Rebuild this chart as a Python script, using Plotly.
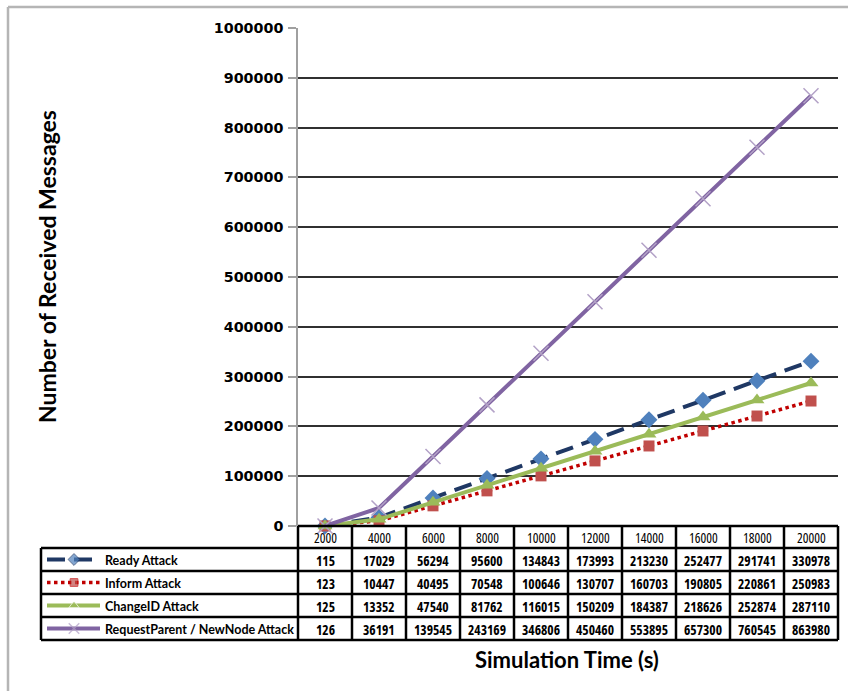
import plotly.graph_objects as go

# Simulation times (s) and received-message counts for each attack
sim_time = [2000, 4000, 6000, 8000, 10000, 12000, 14000, 16000, 18000, 20000]
ready_attack = [115, 17029, 56294, 95600, 134843, 173993, 213230, 252477, 291741, 330978]
inform_attack = [123, 10447, 40495, 70548, 100646, 130707, 160703, 190805, 220861, 250983]
changeid_attack = [125, 13352, 47540, 81762, 116015, 150209, 184387, 218626, 252874, 287110]
reqparent_attack = [126, 36191, 139545, 243169, 346806, 450460, 553895, 657300, 760545, 863980]
series_names = ["Ready Attack", "Inform Attack", "ChangeID Attack",
                "RequestParent / NewNode Attack"]
y_ticks = [0, 100000, 200000, 300000, 400000, 500000, 600000, 700000,
           800000, 900000, 1000000]

W, H = 848, 691
PX_L, PX_R = 298, 838      # plot area left / right (pixels)
PX_T, PX_B = 28, 526       # plot area top / bottom (pixels)
TABLE_L = 41
ROW_EDGES = [526, 548, 571, 594, 617, 640]

TXT_FONT = "Lato, 'Open Sans', sans-serif"
NUM_FONT = "'Open Sans', Lato, sans-serif"


def narrow(s):
    # condensed face for the numeric table cells
    return '<span style="font-stretch:condensed">' + s + '</span>'


styles = [
    dict(line=dict(color="#1F3864", width=4, dash="18px,9px"),
         marker=dict(symbol="diamond", color="#4F81BD", size=13)),
    dict(line=dict(color="#C00000", width=3.5, dash="dot"),
         marker=dict(symbol="square", color="#C0504D", size=11)),
    dict(line=dict(color="#9BBB59", width=4, dash="solid"),
         marker=dict(symbol="triangle-up", color="#9BBB59", size=13)),
    dict(line=dict(color="#8064A2", width=4, dash="solid"),
         marker=dict(symbol="x-thin", color="#B3A2C7", size=15,
                     line=dict(color="#B3A2C7", width=1.5))),
]
all_series = [ready_attack, inform_attack, changeid_attack, reqparent_attack]

fig = go.Figure()

# main line chart (categories placed at index positions, centred in table columns)
xs = list(range(len(sim_time)))
for name, vals, st in zip(series_names, all_series, styles):
    fig.add_trace(go.Scatter(
        x=xs, y=vals, name=name, mode="lines+markers",
        line=st["line"], marker=st["marker"], showlegend=False,
        cliponaxis=False, xaxis="x", yaxis="y"))

# legend keys inside the data table (pixel-space overlay axes)
for i, st in enumerate(styles):
    yc = (ROW_EDGES[i + 1] + ROW_EDGES[i + 2]) / 2
    mk = dict(st["marker"])
    mk["size"] = [0, mk["size"] * 0.7, 0]
    fig.add_trace(go.Scatter(
        x=[47, 74, 100], y=[yc, yc, yc], mode="lines+markers",
        line=st["line"], marker=mk, showlegend=False,
        hoverinfo="skip", xaxis="x2", yaxis="y2"))

shapes = []
annotations = []

def px_line(x0, y0, x1, y1, color="black", width=2):
    shapes.append(dict(type="line", xref="x2", yref="y2", x0=x0, y0=y0,
                       x1=x1, y1=y1, line=dict(color=color, width=width)))

# outer chart border
px_line(8, 7, W, 7, color="#B5B5B5", width=2.5)
px_line(8, 7, 8, H, color="#B5B5B5", width=2.5)

# data table grid
col_w = (PX_R - PX_L) / len(sim_time)
px_line(PX_L, ROW_EDGES[0], PX_R, ROW_EDGES[0], width=2.5)
for r in ROW_EDGES[1:]:
    px_line(TABLE_L, r, PX_R, r, width=2.5)
px_line(TABLE_L, ROW_EDGES[1], TABLE_L, ROW_EDGES[-1], width=2.5)
for c in range(len(sim_time) + 1):
    xc = PX_L + c * col_w
    px_line(xc, ROW_EDGES[0], xc, ROW_EDGES[-1], width=2.5)

# table header (simulation times) and values
for c, t in enumerate(sim_time):
    xc = PX_L + (c + 0.5) * col_w
    annotations.append(dict(
        x=xc, y=(ROW_EDGES[0] + ROW_EDGES[1]) / 2 + 1, xref="x2", yref="y2",
        text=narrow(str(t)), showarrow=False,
        font=dict(family=NUM_FONT, size=13.5, color="black")))
    for r, vals in enumerate(all_series):
        annotations.append(dict(
            x=xc, y=(ROW_EDGES[r + 1] + ROW_EDGES[r + 2]) / 2 + 1,
            xref="x2", yref="y2", text=narrow(str(vals[c])), showarrow=False,
            font=dict(family=NUM_FONT, size=13.5, color="black", weight="bold")))

for r, name in enumerate(series_names):
    annotations.append(dict(
        x=103, y=(ROW_EDGES[r + 1] + ROW_EDGES[r + 2]) / 2 + 0.5,
        xref="x2", yref="y2", xanchor="left", text=name, showarrow=False,
        font=dict(family=TXT_FONT, size=12.5, color="black", weight="bold")))

# axis titles
annotations.append(dict(
    x=567, y=659, xref="x2", yref="y2", text="Simulation Time (s)",
    showarrow=False,
    font=dict(family=TXT_FONT, size=22, color="black", weight="bold")))
annotations.append(dict(
    x=47, y=267, xref="x2", yref="y2", text="Number of Received Messages",
    textangle=-90, showarrow=False,
    font=dict(family=TXT_FONT, size=23, color="black", weight="bold")))

fig.update_layout(
    width=W, height=H, autosize=False,
    margin=dict(l=0, r=0, t=0, b=0, pad=0, autoexpand=False),
    paper_bgcolor="white", plot_bgcolor="rgba(0,0,0,0)",
    xaxis=dict(domain=[PX_L / W, PX_R / W], range=[-0.5, len(sim_time) - 0.5],
               showticklabels=False, showgrid=False, zeroline=False,
               showline=False, ticks="", fixedrange=True, automargin=False),
    yaxis=dict(domain=[1 - PX_B / H, 1 - PX_T / H], range=[0, 1000000],
               tickvals=y_ticks, ticktext=[str(v) for v in y_ticks],
               showgrid=True, gridcolor="#303030", gridwidth=1.5,
               zeroline=False, showline=True, linecolor="#A0A0A0",
               linewidth=1.5, ticks="outside", ticklen=8, tickcolor="#A0A0A0",
               tickwidth=1.5, automargin=False, ticklabelstandoff=2,
               tickfont=dict(family="'DejaVu Sans', sans-serif", size=14.3,
                             color="black", weight="bold"),
               fixedrange=True),
    xaxis2=dict(domain=[0, 1], range=[0, W], visible=False, fixedrange=True,
                anchor="y2", automargin=False),
    yaxis2=dict(domain=[0, 1], range=[H, 0], visible=False, fixedrange=True,
                anchor="x2", automargin=False),
    shapes=shapes, annotations=annotations,
    showlegend=False,
)

fig.write_html("out.html")
